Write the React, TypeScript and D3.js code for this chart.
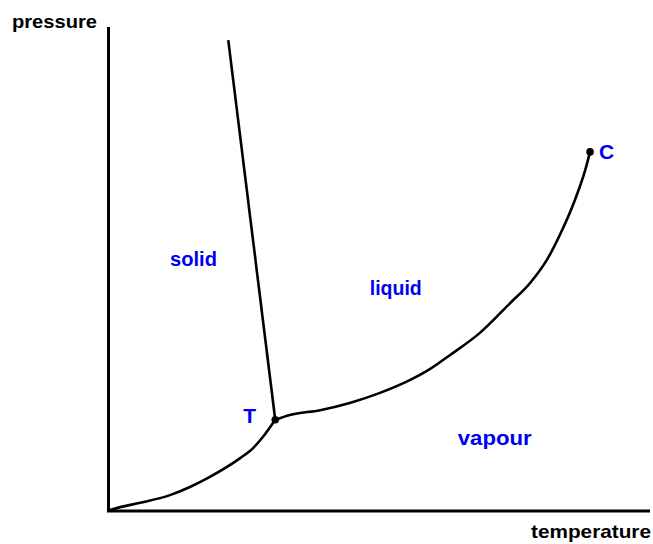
import React from "react";
import * as d3 from "d3";

// readings, arbitrary units (temperature 0-100, pressure 0-100)
const sublimation: [number, number][] = [
  [0, 0], [1.9, 0.6], [5.6, 1.5], [11.1, 3.1], [14.8, 4.8], [18.5, 6.9],
  [24.1, 10.8], [26.5, 12.9], [28.3, 15.2], [30.6, 18.8],
];
const vaporisation: [number, number][] = [
  [30.6, 18.8], [33.3, 19.8], [38.9, 20.8], [44.4, 22.3], [50.0, 24.4],
  [55.6, 27.1], [59.3, 29.4], [63.0, 32.3], [68.5, 36.9], [74.1, 43.1],
  [77.8, 47.3], [80.9, 52.1], [83.3, 57.3], [86.1, 64.6], [88.0, 70.8],
  [88.9, 74.6],
];
const fusion: [number, number][] = [[30.6, 18.8], [21.9, 97.9]];
const points = [
  { name: "T", t: 30.6, p: 18.8 },
  { name: "C", t: 88.9, p: 74.6 },
];
const regions = [
  { name: "solid", t: 11.1, p: 50.8 },
  { name: "liquid", t: 48.1, p: 44.8 },
  { name: "vapour", t: 64.4, p: 13.5 },
];

const W = 653;
const H = 544;
const blue = "#0000f0";

export default function App() {
  const x = d3.scaleLinear().domain([0, 100]).range([110, 650]);
  const y = d3.scaleLinear().domain([0, 100]).range([510, 30]);
  const line = d3
    .line<[number, number]>()
    .x((d) => x(d[0]))
    .y((d) => y(d[1]))
    .curve(d3.curveMonotoneX);
  const straight = d3
    .line<[number, number]>()
    .x((d) => x(d[0]))
    .y((d) => y(d[1]));

  const font = "'Liberation Sans', Arial, sans-serif";

  return (
    <svg
      width={W}
      height={H}
      style={{ position: "absolute", left: 0, top: 0, background: "#fff" }}
    >
      {/* axes */}
      <line x1={x(0) - 1.5} x2={x(0) - 1.5} y1={y(0) + 1} y2={y(100) - 3} stroke="#000" strokeWidth={3} />
      <line x1={x(0) - 3} x2={x(100)} y1={y(0) + 1} y2={y(0) + 1} stroke="#000" strokeWidth={3} />
      <text x={12} y={28} fontFamily={font} fontSize={19} fontWeight="bold" textLength={85} lengthAdjust="spacingAndGlyphs">
        pressure
      </text>
      <text x={531} y={538} fontFamily={font} fontSize={19} fontWeight="bold" textLength={120} lengthAdjust="spacingAndGlyphs">
        temperature
      </text>

      {/* phase boundaries */}
      <path d={line(sublimation) || ""} fill="none" stroke="#000" strokeWidth={2.6} />
      <path d={line(vaporisation) || ""} fill="none" stroke="#000" strokeWidth={2.6} />
      <path d={straight(fusion) || ""} fill="none" stroke="#000" strokeWidth={2.6} />

      {points.map((d) => (
        <circle key={d.name} cx={x(d.t)} cy={y(d.p)} r={3.8} fill="#000" />
      ))}
      <text x={x(points[0].t) - 32} y={y(points[0].p) + 3} fontFamily={font} fontSize={21} fontWeight="bold" fill={blue}>
        T
      </text>
      <text x={x(points[1].t) + 9} y={y(points[1].p) + 7} fontFamily={font} fontSize={21} fontWeight="bold" fill={blue}>
        C
      </text>

      {regions.map((d) => (
        <text
          key={d.name}
          x={x(d.t)}
          y={y(d.p)}
          fontFamily={font}
          fontSize={20}
          fontWeight="bold"
          fill={blue}
          textLength={d.name === "vapour" ? 74 : d.name === "liquid" ? 52 : 47}
          lengthAdjust="spacingAndGlyphs"
        >
          {d.name}
        </text>
      ))}
    </svg>
  );
}
